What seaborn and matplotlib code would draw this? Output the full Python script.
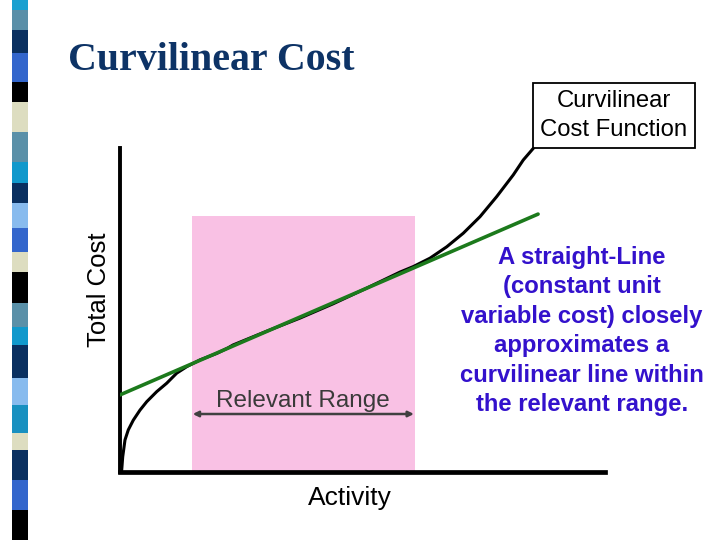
import matplotlib
matplotlib.use("Agg")
import matplotlib.pyplot as plt
import seaborn as sns
import pandas as pd
from matplotlib.patches import Rectangle

# ---- data ----
curve_x = [0.006, 0.035, 0.056, 0.103, 0.171, 0.274, 0.412, 0.551, 0.757, 0.963, 1.169, 1.375,
           1.649, 1.994, 2.227, 2.330, 3.031, 3.711, 4.392, 5.093, 5.773, 6.047, 6.392, 6.736,
           7.078, 7.423, 7.767, 8.109, 8.315, 8.522]
curve_y = [0.00, 0.06, 0.47, 0.99, 1.30, 1.60, 1.91, 2.17, 2.48, 2.74, 3.05, 3.25,
           3.46, 3.66, 3.83, 3.92, 4.35, 4.75, 5.19, 5.68, 6.17, 6.34, 6.60, 6.95,
           7.37, 7.88, 8.50, 9.17, 9.63, 9.99]
line_x = [0.0, 8.62]
line_y = [2.38, 7.96]
range_lo, range_hi = 1.48, 6.08
range_top = 7.90

title = "Curvilinear Cost"
xlabel = "Activity"
ylabel = "Total Cost"
range_label = "Relevant Range"
box_label = "Curvilinear\nCost Function"
note = ("A straight-Line\n(constant unit\nvariable cost) closely\n"
        "approximates a\ncurvilinear line within\nthe relevant range.")

strip_bounds = [0, 10, 30, 53, 82, 102, 132, 162, 183, 203, 228, 252, 272, 303, 327, 345, 378, 405, 433, 450, 480, 510, 540]
strip_colors = ["#1aa0d0", "#5a8fa8", "#0a3060", "#3366cc", "#000000", "#ddddc0", "#5a90a8",
                "#1199cc", "#0a3060", "#88bbee", "#3366cc", "#ddddc0", "#000000", "#5a90a8",
                "#1199cc", "#0a3060", "#88bbee", "#1890c0", "#ddddc0", "#0a3060", "#3366cc", "#000000"]

sns.set_theme(style="white")
plt.rcParams["font.family"] = ["Liberation Sans", "DejaVu Sans"]

fig = plt.figure(figsize=(7.2, 5.4), dpi=100)
fig.patch.set_facecolor("white")

# decorative strip
for i, c in enumerate(strip_colors):
    y0 = 1 - strip_bounds[i + 1] / 540
    h = (strip_bounds[i + 1] - strip_bounds[i]) / 540
    fig.patches.append(Rectangle((12 / 720, y0), 16 / 720, h, transform=fig.transFigure,
                                 facecolor=c, edgecolor="none"))

ax = fig.add_axes([120 / 720, 68 / 540, 485 / 720, 324 / 540])
ax.set_xlim(0, 10)
ax.set_ylim(0, 10)
ax.set_facecolor("none")

ax.add_patch(Rectangle((range_lo, 0), range_hi - range_lo, range_top,
                       facecolor="#f9c1e4", edgecolor="none", zorder=0))

df_c = pd.DataFrame({"x": curve_x, "y": curve_y})
df_l = pd.DataFrame({"x": line_x, "y": line_y})
sns.lineplot(data=df_c, x="x", y="y", ax=ax, color="black", linewidth=2.2, sort=False,
             estimator=None, zorder=3, clip_on=False)
sns.lineplot(data=df_l, x="x", y="y", ax=ax, color="#1c7a1c", linewidth=2.6, sort=False,
             estimator=None, zorder=4)

ax.annotate("", xy=(range_lo + 0.02, 1.79), xytext=(range_hi - 0.02, 1.79),
            arrowprops=dict(arrowstyle="<|-|>", color="#404040", lw=1.8,
                            mutation_scale=8, shrinkA=0, shrinkB=0))
ax.text((range_lo + range_hi) / 2, 2.19, range_label, ha="center", va="center",
        fontsize=17.5, color="#3a3a3a")

ax.set_xticks([])
ax.set_yticks([])
ax.set_xlabel("")
ax.set_ylabel("")
for s in ["top", "right"]:
    ax.spines[s].set_visible(False)
ax.spines["left"].set_color("black")
ax.spines["left"].set_linewidth(2.8)
ax.spines["bottom"].set_color("black")
ax.spines["bottom"].set_linewidth(3.4)
ax.spines["bottom"].set_capstyle("projecting")

fig.text(68 / 720, 1 - 60 / 540, title, ha="left", va="center", fontsize=28.7,
         fontweight="bold", family="Liberation Serif", color="#0d3366")
fig.text(350 / 720, 1 - 498 / 540, xlabel, ha="center", va="center", fontsize=19, color="black")
fig.text(99 / 720, 1 - 290 / 540, ylabel, ha="center", va="center", fontsize=18.5,
         rotation=90, color="black")

# callout box
fig.patches.append(Rectangle((533 / 720, 1 - 148 / 540), 162 / 720, 65 / 540,
                             transform=fig.transFigure, facecolor="white",
                             edgecolor="black", lw=1.3))
fig.text(614 / 720, 1 - 115.5 / 540, box_label, ha="center", va="center", fontsize=17.2,
         color="black", linespacing=1.36)
fig.add_artist(matplotlib.patches.FancyArrowPatch(
    (541 / 720, 1 - 140 / 540), (534 / 720, 1 - 149 / 540), transform=fig.transFigure,
    arrowstyle="-|>", mutation_scale=6, color="black", lw=1.0))

fig.text(582 / 720, 1 - 331 / 540, note, ha="center", va="center", fontsize=17.2,
         fontweight="bold", color="#3311cc", linespacing=1.36)

fig.savefig("out.png", dpi=100)
